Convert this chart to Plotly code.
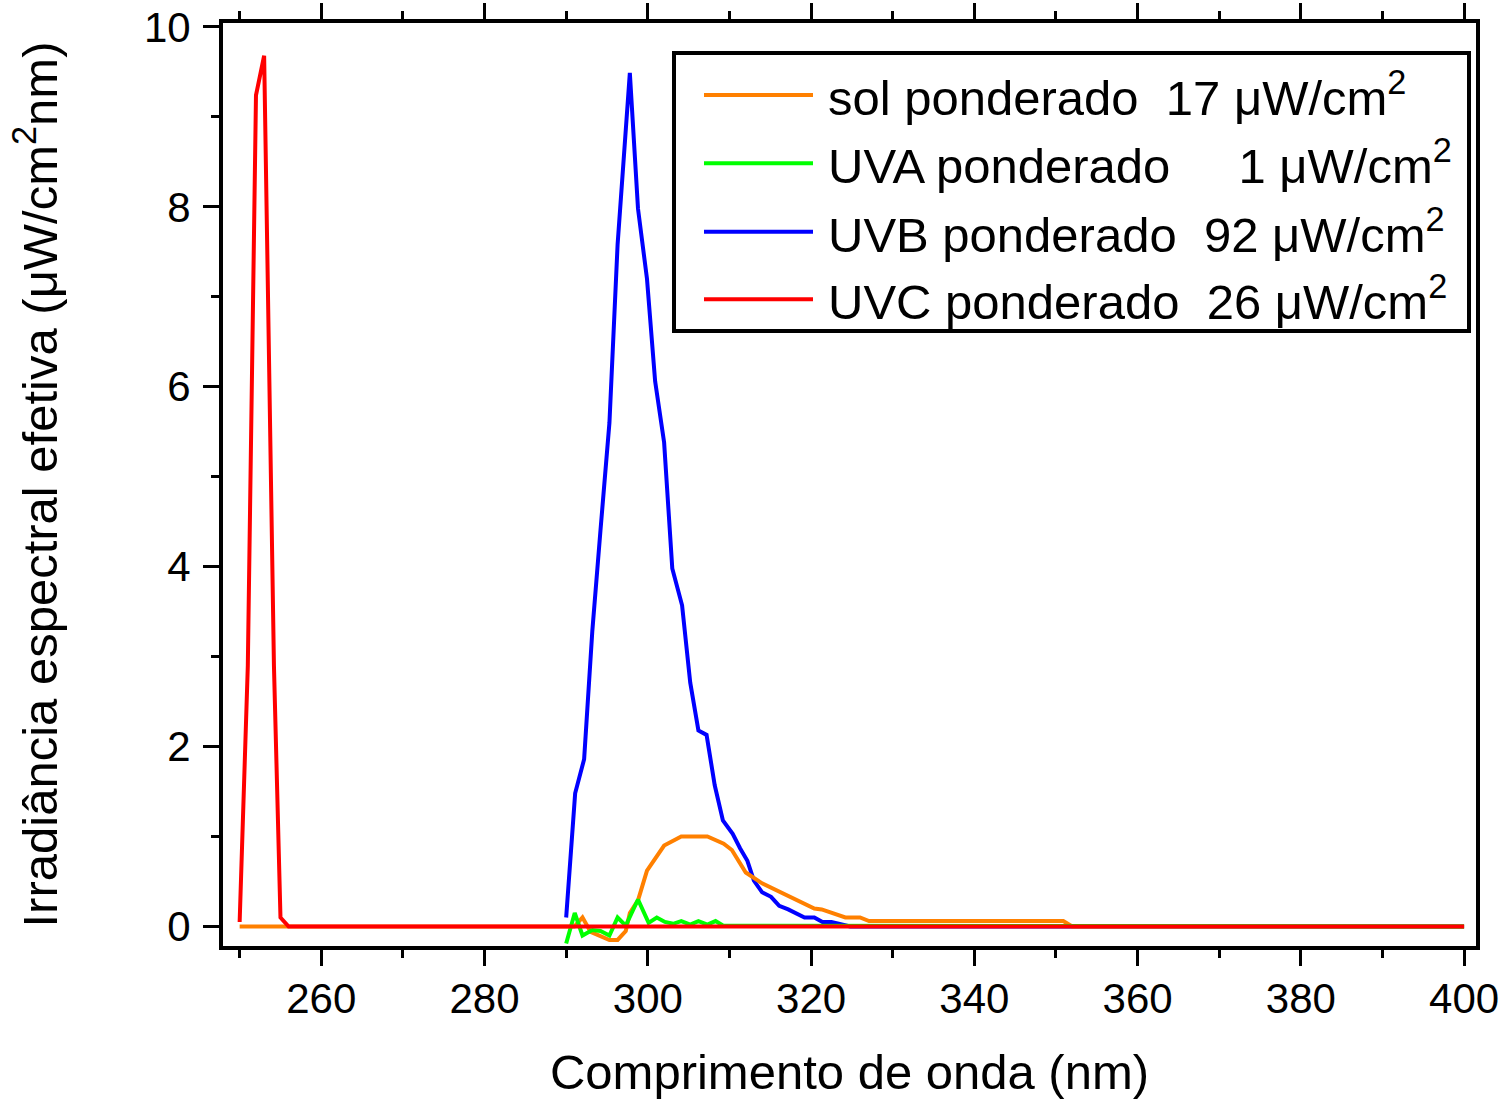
import plotly.graph_objects as go

# ---------------- data ----------------
sol_nm = [250, 291, 292, 293, 295.3, 296.3, 297.3, 297.8, 298.8, 299.9, 302.0, 304.1,
          307.3, 309.3, 310.3, 312.0, 314.0, 320.4, 321.3, 322.5, 324.2, 326.0, 327.1,
          350.9, 352.0, 400]
sol_val = [0.0, 0.0, 0.10, -0.06, -0.15, -0.15, -0.05, 0.15, 0.29, 0.62, 0.90, 1.00,
           1.00, 0.92, 0.85, 0.60, 0.48, 0.20, 0.19, 0.15, 0.10, 0.10, 0.06,
           0.06, 0.0, 0.0]

uva_nm = [290.0, 291.05, 292.0, 293.2, 294.2, 295.3, 296.3, 297.3, 298.8, 300.1, 301.1,
          302.1, 303.1, 304.1, 305.2, 306.2, 307.3, 308.3, 309.2, 400]
uva_val = [-0.19, 0.15, -0.10, -0.04, -0.05, -0.10, 0.10, 0.01, 0.30, 0.04, 0.10,
           0.05, 0.03, 0.06, 0.02, 0.06, 0.02, 0.06, 0.01, 0.0]

uvb_nm = [290.0, 291.1, 292.2, 293.2, 294.2, 295.3, 296.3, 297.8, 298.8, 299.9, 300.9,
          302.0, 303.0, 304.2, 305.2, 306.2, 307.2, 308.2, 309.2, 310.4, 311.3, 312.2,
          313.0, 314.0, 315.1, 316.1, 317.2, 318.2, 319.2, 320.4, 321.4, 322.5, 324.8, 400]
uvb_val = [0.10, 1.48, 1.86, 3.28, 4.40, 5.60, 7.58, 9.49, 7.98, 7.20, 6.06,
           5.38, 3.98, 3.57, 2.71, 2.18, 2.13, 1.57, 1.18, 1.03, 0.87, 0.73,
           0.51, 0.38, 0.33, 0.23, 0.19, 0.14, 0.10, 0.10, 0.05, 0.05, 0.0, 0.0]

uvc_nm = [250, 251, 252, 253, 254.2, 255, 256, 400]
uvc_val = [0.05, 2.90, 9.24, 9.68, 2.90, 0.10, 0.0, 0.0]

legend_labels = [
    "sol ponderado\u00a0\u00a017 \u03bcW/cm<sup>2</sup>",
    "UVA ponderado\u00a0\u00a0\u00a0\u00a0\u00a01 \u03bcW/cm<sup>2</sup>",
    "UVB ponderado\u00a0\u00a092 \u03bcW/cm<sup>2</sup>",
    "UVC ponderado\u00a0\u00a026 \u03bcW/cm<sup>2</sup>",
]
legend_colors = ["#FF8000", "#00FF00", "#0000FF", "#FF0000"]

x_ticks = [260, 280, 300, 320, 340, 360, 380, 400]
y_ticks = [0, 2, 4, 6, 8, 10]

x_title = "Comprimento de onda (nm)"
y_title = "Irradi\u00e2ncia espectral efetiva (\u03bcW/cm<sup>2</sup>nm)"

# ---------------- layout geometry ----------------
W, H = 1511, 1099
L, R, T, B = 223, 35, 23, 153
PW, PH = W - L - R, H - T - B
FONT = "Liberation Sans, Arial, sans-serif"


def px(x):
    return (x - L) / PW


def py(y):
    return (H - B - y) / PH


fig = go.Figure()
series = [
    (uvb_nm, uvb_val, legend_colors[2], "UVB ponderado"),
    (sol_nm, sol_val, legend_colors[0], "sol ponderado"),
    (uva_nm, uva_val, legend_colors[1], "UVA ponderado"),
    (uvc_nm, uvc_val, legend_colors[3], "UVC ponderado"),
]
for xs, ys, c, n in series:
    fig.add_trace(go.Scatter(x=xs, y=ys, mode="lines", name=n,
                             line=dict(color=c, width=4), showlegend=False))

xr = [247.96, 401.46]
yr = [-0.217, 10.044]

fig.update_layout(
    width=W, height=H,
    margin=dict(l=L, r=R, t=T, b=B, pad=0, autoexpand=False),
    paper_bgcolor="white", plot_bgcolor="white",
    font=dict(family=FONT, color="black"),
    showlegend=False,
    xaxis=dict(
        range=xr, showgrid=False, zeroline=False, automargin=False,
        showline=True, linewidth=4, linecolor="black", mirror="ticks",
        ticks="outside", ticklen=16, tickwidth=3, tickcolor="black",
        tickvals=x_ticks, ticktext=[str(v) for v in x_ticks],
        minor=dict(ticks="outside", ticklen=8, tickwidth=3, tickcolor="black",
                   tick0=250, dtick=20),
        tickfont=dict(size=42, family=FONT),
        ticklabelstandoff=-3,
        title=dict(text=x_title, font=dict(size=49, family=FONT), standoff=38),
    ),
    yaxis=dict(
        range=yr, showgrid=False, zeroline=False, automargin=False,
        showline=True, linewidth=4, linecolor="black", mirror=True,
        ticks="outside", ticklen=16, tickwidth=3, tickcolor="black",
        tickvals=y_ticks, ticktext=[str(v) for v in y_ticks],
        minor=dict(ticks="outside", ticklen=8, tickwidth=3, tickcolor="black",
                   tick0=1, dtick=2),
        tickfont=dict(size=42, family=FONT),
        ticklabelstandoff=4,
        title=dict(text=y_title, font=dict(size=49, family=FONT), standoff=72),
    ),
    yaxis2=dict(
        range=yr, overlaying="y", side="right", anchor="x", automargin=False,
        showgrid=False, zeroline=False, showline=False, showticklabels=False,
        ticks="inside", ticklen=15, tickwidth=3, tickcolor="black",
        tickvals=y_ticks,
        minor=dict(ticks="inside", ticklen=7, tickwidth=3, tickcolor="black",
                   tick0=1, dtick=2),
    ),
)

# ---------------- manual legend ----------------
shapes = [dict(type="rect", xref="paper", yref="paper",
               x0=px(674), x1=px(1469), y0=py(331), y1=py(53),
               line=dict(color="black", width=4), fillcolor="white", layer="above")]
annotations = []
row_y = [95, 163.3, 231.7, 299.3]
for lab, col, yy in zip(legend_labels, legend_colors, row_y):
    shapes.append(dict(type="line", xref="paper", yref="paper",
                       x0=px(704), x1=px(813), y0=py(yy), y1=py(yy),
                       line=dict(color=col, width=4), layer="above"))
    annotations.append(dict(xref="paper", yref="paper", x=px(826), y=py(yy - 1),
                            xanchor="left", yanchor="middle", showarrow=False,
                            text=lab, font=dict(size=49, family=FONT, color="black")))

fig.update_layout(shapes=shapes, annotations=annotations)
fig.write_html("out.html")
